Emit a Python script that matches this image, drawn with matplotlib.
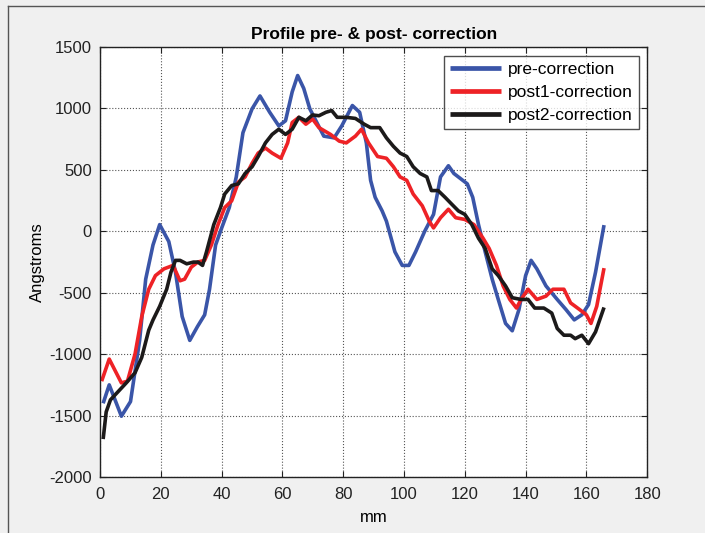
import numpy as np
import matplotlib
matplotlib.use("Agg")
from matplotlib import pyplot as plt
from matplotlib.lines import Line2D

plt.rcParams['font.family'] = ['Liberation Sans', 'DejaVu Sans']
plt.rcParams['axes.unicode_minus'] = False

# pre-correction profile (mm, Angstroms)
pre_x = [1, 3, 7, 10, 13, 15, 17.4, 19.6, 22.6, 24.8, 27, 29.5, 32, 34.4, 36, 38, 39.6,
         42.5, 44.8, 47, 50, 52.6, 55.8, 58.8, 61, 63.2, 65, 67, 69, 73.6, 77, 79.5, 83,
         85.4, 87.6, 89, 90.5, 92.8, 94.2, 97, 99.4, 101.6, 103.8, 106.8, 109.7, 112,
         114.6, 116.4, 118.6, 120.8, 122.6, 124.5, 126.7, 129, 131, 133.4, 135.6, 137.8,
         140, 141.8, 143.7, 146.7, 150.4, 153.3, 156, 158.5, 160.7, 163, 165.8]
pre_y = [-1400, -1250, -1505, -1386, -888, -390, -112, 54, -84, -334, -694, -888, -777,
         -680, -472, -112, 0, 193, 442, 802, 996, 1101, 968, 857, 899, 1134, 1267, 1162,
         996, 774, 760, 857, 1023, 968, 719, 414, 276, 165, 82, -168, -278, -278, -168, 0,
         137, 442, 533, 470, 428, 386, 276, 54, -168, -390, -555, -750, -810, -638, -361,
         -237, -306, -445, -555, -638, -721, -680, -597, -334, 50]

# post1-correction profile
post1_x = [0.5, 3, 5, 7, 9, 11.5, 13.7, 16, 18.2, 21, 24, 26.3, 27.8, 30, 32.2, 34.4,
           36.6, 38.8, 41, 43.3, 45.5, 47.7, 50, 52, 54.4, 56.6, 59.5, 61.7, 63.2, 65.4,
           67.7, 69.9, 72, 75.8, 78.7, 81, 84, 86, 88.3, 91.3, 94.2, 96.5, 98.7, 100.9,
           103, 106, 108.3, 109.7, 112, 114.6, 117, 120, 123, 126, 128, 130.4, 132.6,
           134.8, 137, 138.5, 140.8, 143.7, 146.7, 149, 152.6, 154.8, 157.8, 160, 161.5,
           163.4, 165.8]
post1_y = [-1220, -1040, -1137, -1234, -1220, -998, -694, -472, -361, -306, -278, -403,
           -390, -292, -250, -237, -112, 54, 193, 248, 400, 442, 553, 636, 677, 636, 594,
           719, 885, 927, 871, 913, 843, 788, 733, 719, 774, 830, 719, 608, 594, 525, 442,
           414, 303, 207, 82, 27, 110, 179, 110, 96, 54, -57, -140, -278, -445, -555, -625,
           -555, -472, -555, -528, -472, -472, -583, -638, -680, -750, -611, -300]

# post2-correction profile
post2_x = [1, 2, 3.4, 6, 8.6, 11.5, 13.7, 16, 17.4, 19.6, 21.9, 23.3, 24.8, 26.3, 28.5,
           30.7, 32.2, 33.7, 35, 37.4, 39.6, 41, 43.3, 45.5, 47.7, 50, 52, 54.4, 56.6,
           58.8, 61, 63.2, 65.4, 67.7, 69.9, 72, 74.3, 76.2, 78, 81, 84, 86.9, 89, 92,
           94.2, 96.5, 98.7, 100.9, 103, 105.3, 107.5, 109, 111.2, 113.5, 115.7, 117.9,
           120, 122.3, 124.5, 126.7, 129, 131, 133.4, 135.6, 138.5, 140.8, 143, 146,
           148.6, 150.4, 152.6, 154.8, 156.3, 158.5, 160.7, 163, 165.8]
post2_y = [-1691, -1470, -1372, -1303, -1234, -1151, -1026, -805, -722, -611, -472, -334,
           -237, -237, -265, -251, -251, -278, -168, 54, 193, 303, 372, 386, 470, 525, 608,
           719, 788, 830, 788, 830, 927, 899, 946, 940, 968, 982, 927, 927, 918, 871, 843,
           843, 760, 691, 636, 608, 525, 470, 442, 331, 331, 276, 220, 165, 137, 54, -57,
           -140, -306, -361, -445, -541, -555, -555, -625, -625, -666, -791, -846, -846,
           -874, -846, -915, -819, -620]

x_ticks = np.arange(0, 181, 20)
y_ticks = np.arange(-2000, 1501, 500)

fig = plt.figure(figsize=(7.05, 5.33), dpi=100, facecolor='#f0f0f0')
ax = fig.add_axes([0.142, 0.105, 0.776, 0.807])

kw = dict(lw=2.6, solid_joinstyle='round', solid_capstyle='butt')
ax.plot(pre_x, pre_y, color='#3a55a8', label='pre-correction', **kw)
ax.plot(post1_x, post1_y, color='#ee2226', label='post1-correction', **kw)
ax.plot(post2_x, post2_y, color='#1c1a1a', label='post2-correction', **kw)

ax.set_xlim(0, 180)
ax.set_ylim(-2000, 1500)
ax.set_xticks(x_ticks)
ax.set_yticks(y_ticks)
ax.grid(True, color='#555555', linestyle=':', linewidth=0.8)
ax.tick_params(direction='in', top=True, right=True, length=4, labelsize=12,
               colors='#222222')
ax.tick_params(axis='x', pad=7)
ax.tick_params(axis='y', pad=6)
for s in ax.spines.values():
    s.set_color('#222222')
    s.set_linewidth(1.0)

ax.set_title('Profile pre- & post- correction', fontsize=12.5, fontweight='bold', pad=6)
ax.set_xlabel('mm', fontsize=12, labelpad=6)
ax.set_ylabel('Angstroms', fontsize=12, labelpad=3)

leg = ax.legend(loc='upper right', fontsize=12.5, frameon=True, fancybox=False,
                borderaxespad=0.5, handlelength=2.9, labelspacing=0.45,
                borderpad=0.35, handletextpad=0.4)
leg.get_frame().set_edgecolor('#222222')
leg.get_frame().set_linewidth(1.0)
for ln in leg.get_lines():
    ln.set_linewidth(3.4)

# window frame lines of the screenshot
fig.add_artist(Line2D([8 / 705, 8 / 705], [0, 1 - 6 / 533], color='#555555', lw=1.0))
fig.add_artist(Line2D([8 / 705, 1], [1 - 6 / 533, 1 - 6 / 533], color='#555555', lw=1.0))

fig.savefig('out.png', dpi=100, facecolor=fig.get_facecolor())
